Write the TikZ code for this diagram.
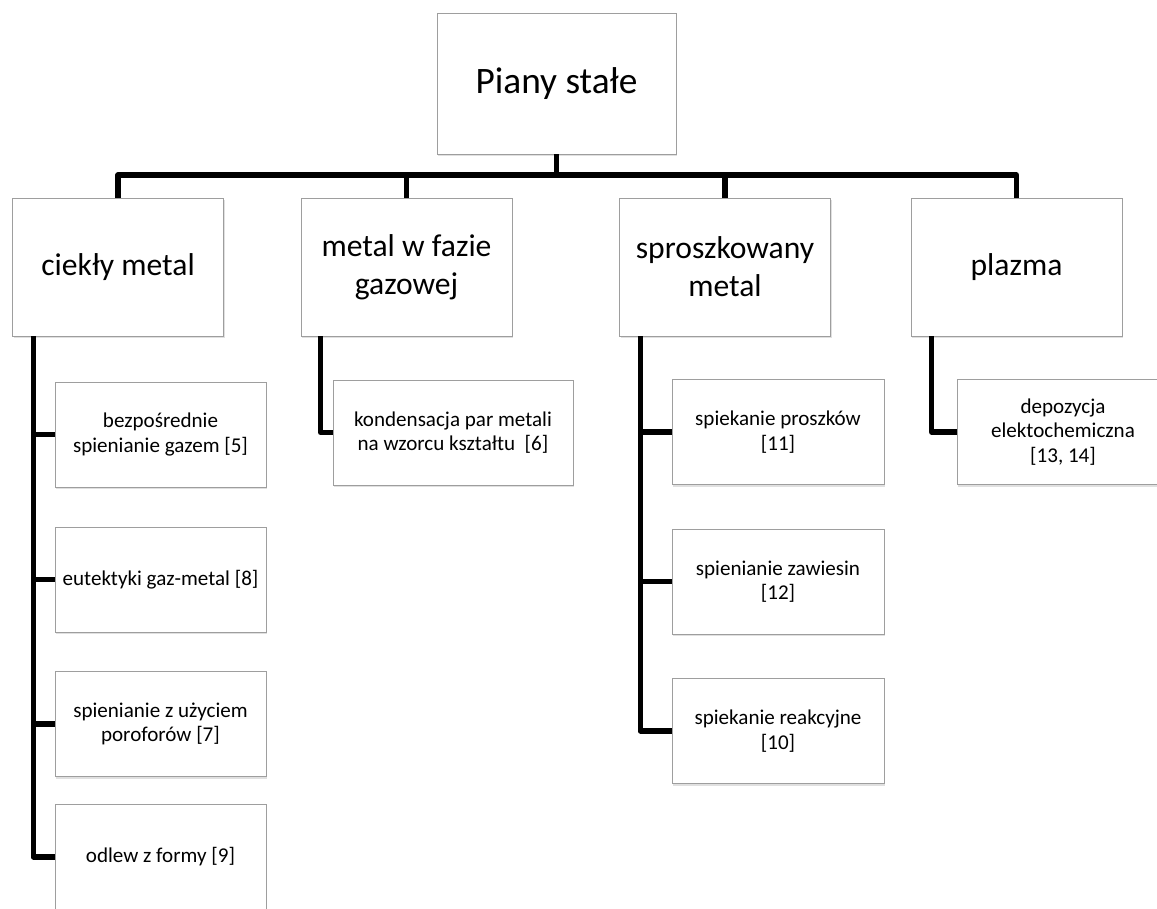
\documentclass[tikz,border=0pt]{standalone}
\usepackage{fontspec}
\setmainfont{Carlito}
\usetikzlibrary{calc,shadows}
\begin{document}
\begin{tikzpicture}[x=0.75pt,y=-0.75pt,
  box/.style={draw=black!38,line width=0.7pt,fill=white,rectangle,inner sep=0pt,align=center,
    drop shadow={shadow xshift=0.9pt,shadow yshift=-1.5pt,opacity=0.2,fill=black!60}},
  topbox/.style={box,minimum width=239*0.75pt,minimum height=141*0.75pt,font=\fontsize{28}{33}\selectfont},
  lvone/.style={box,minimum width=211*0.75pt,minimum height=138*0.75pt,font=\fontsize{23.7}{28.5}\selectfont},
  lvtwo/.style={box,minimum width=211*0.75pt,minimum height=105*0.75pt,font=\fontsize{15.8}{18.2}\selectfont},
  conn/.style={draw=black,line width=3.8pt,line join=round}]
\useasboundingbox (0,0) rectangle (1157,908);
\clip (0,0) rectangle (1157,908);
% top
\node[topbox] (top) at (556.5,83.5) {Piany stałe};
% level one
\node[lvone] (c1) at (118,267) {ciekły metal};
\node[lvone] (c2) at (406.5,267) {metal w fazie\\gazowej};
\node[lvone] (c3) at (725,267) {sproszkowany\\metal};
\node[lvone] (c4) at (1016.5,267) {plazma};
% level two
\node[lvtwo] (l1) at (160.5,434.5) {bezpośrednie\\spienianie gazem [5]};
\node[lvtwo] (l2) at (160.5,579.5) {eutektyki gaz-metal [8]};
\node[lvtwo] (l3) at (160.5,724) {spienianie z użyciem\\poroforów [7]};
\node[lvtwo] (l4) at (160.5,857) {odlew z formy [9]};
\node[lvtwo,minimum width=240*0.75pt] (m1) at (453,432.5) {kondensacja par metali\\na wzorcu kształtu\ \ [6]};
\node[lvtwo,minimum width=212*0.75pt] (s1) at (778,432) {spiekanie proszków\\{[11]}};
\node[lvtwo,minimum width=212*0.75pt] (s2) at (778,581.5) {spienianie zawiesin\\{[12]}};
\node[lvtwo,minimum width=212*0.75pt] (s3) at (778,731) {spiekanie reakcyjne\\{[10]}};
\node[lvtwo,minimum width=212*0.75pt] (p1) at (1063,432) {depozycja\\elektochemiczna\\{[13, 14]}};
% bar
\coordinate (bar) at (556.5,175);
\draw[conn] (top.south) -- (top.south |- bar);
\draw[conn] (c1.north) -- (c1.north |- bar) -- (c4.north |- bar) -- (c4.north);
\draw[conn] (c2.north) -- (c2.north |- bar);
\draw[conn] (c3.north) -- (c3.north |- bar);
% drops
\coordinate (d1) at ($(c1.south west)+(21,0)$);
\coordinate (d2) at ($(c2.south west)+(20,0)$);
\coordinate (d3) at ($(c3.south west)+(21,0)$);
\coordinate (d4) at ($(c4.south west)+(21,0)$);
\draw[conn] (d1) |- (l4.west);
\draw[conn] (l1.west) -- (l1.west -| d1);
\draw[conn] (l2.west) -- (l2.west -| d1);
\draw[conn] (l3.west) -- (l3.west -| d1);
\draw[conn] (d2) |- (m1.west);
\draw[conn] (d3) |- (s3.west);
\draw[conn] (s1.west) -- (s1.west -| d3);
\draw[conn] (s2.west) -- (s2.west -| d3);
\draw[conn] (d4) |- (p1.west);
\end{tikzpicture}
\end{document}
